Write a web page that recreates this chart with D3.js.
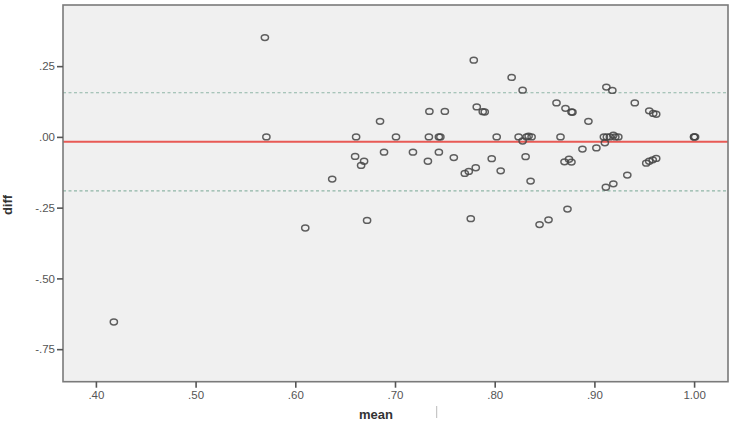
<!DOCTYPE html>
<html><head><meta charset="utf-8">
<script src="https://cdn.jsdelivr.net/npm/d3@7"></script>
<style>body{margin:0;background:#fff}svg{display:block}</style>
</head><body>
<svg id="c" width="738" height="428"></svg>
<script>
const meanVals = [0.418,0.5695,0.571,0.610,0.637,0.661,0.660,0.669,0.666,0.672,0.685,0.689,0.701,0.718,0.7345,0.750,0.734,0.744,0.7455,0.733,0.744,0.759,0.770,0.774,0.781,0.779,0.776,0.782,0.788,0.790,0.797,0.802,0.806,0.817,0.828,0.824,0.828,0.832,0.834,0.837,0.831,0.836,0.845,0.854,0.862,0.871,0.877,0.878,0.866,0.870,0.8745,0.877,0.873,0.894,0.888,0.902,0.9105,0.9095,0.9125,0.9155,0.919,0.921,0.924,0.912,0.918,0.9115,0.919,0.933,0.9405,0.955,0.959,0.962,0.952,0.955,0.9585,0.962,1.000,1.000,1.001];
const diffVals = [-0.654,0.351,0.000,-0.322,-0.149,0.000,-0.069,-0.086,-0.101,-0.295,0.055,-0.054,0.000,-0.054,0.090,0.090,0.000,0.000,0.000,-0.086,-0.054,-0.073,-0.129,-0.122,-0.109,0.271,-0.289,0.106,0.089,0.088,-0.077,0.000,-0.120,0.210,0.165,0.000,-0.0145,0.000,0.003,0.000,-0.070,-0.156,-0.310,-0.293,0.120,0.101,0.088,0.087,0.000,-0.088,-0.079,-0.089,-0.255,0.055,-0.043,-0.039,-0.021,0.000,0.000,0.000,0.006,0.000,0.000,0.176,0.164,-0.178,-0.166,-0.135,0.120,0.092,0.083,0.080,-0.093,-0.086,-0.081,-0.076,0.000,0.000,0.000];
const meanLine = -0.017;
const upperLimit = 0.156;
const lowerLimit = -0.191;
const xTicks = [0.40,0.50,0.60,0.70,0.80,0.90,1.00];
const yTicks = [0.25,0.00,-0.25,-0.50,-0.75];
const xTitle = "mean";
const yTitle = "diff";

const svg = d3.select("#c");
const L=63,R=728,T=5,B=381.7;
const x = d3.scaleLinear().domain([0.367,1.034]).range([L,R]);
const y = d3.scaleLinear().domain([-0.865,0.466]).range([B,T]);
const fmt = v => { let s = d3.format(".2f")(Math.abs(v)); if (s.startsWith("0")) s = s.slice(1); return (v < -1e-9 ? "-" : "") + s; };

svg.append("rect").attr("x",L).attr("y",T).attr("width",R-L).attr("height",B-T).attr("fill","#f0f0f0");

// reference lines
[upperLimit,lowerLimit].forEach(v=>{
  svg.append("line").attr("x1",L).attr("x2",R).attr("y1",y(v)).attr("y2",y(v))
    .attr("stroke","#8fb5a6").attr("stroke-width",1.2).attr("stroke-dasharray","3,2.5");
});
svg.append("line").attr("x1",L).attr("x2",R).attr("y1",y(meanLine)).attr("y2",y(meanLine))
  .attr("stroke","#e85a55").attr("stroke-width",2);

// points
svg.append("g").selectAll("ellipse").data(meanVals.map((m,i)=>[m,diffVals[i]])).join("ellipse")
  .attr("cx",d=>x(d[0])).attr("cy",d=>y(d[1])).attr("rx",3.6).attr("ry",2.9)
  .attr("fill","none").attr("stroke","#444").attr("stroke-width",1.5).attr("stroke-opacity",0.85);

// frame
svg.append("rect").attr("x",L).attr("y",T).attr("width",R-L).attr("height",B-T)
  .attr("fill","none").attr("stroke","#7a7a7a").attr("stroke-width",1.6);

// axes
const xa = svg.append("g").attr("transform",`translate(0,${B})`)
  .call(d3.axisBottom(x).tickValues(xTicks).tickFormat(fmt).tickSize(6).tickPadding(3));
const ya = svg.append("g").attr("transform",`translate(${L},0)`)
  .call(d3.axisLeft(y).tickValues(yTicks).tickFormat(fmt).tickSize(6).tickPadding(2));
[xa,ya].forEach(g=>{
  g.select(".domain").remove();
  g.selectAll(".tick line").attr("stroke","#555").attr("stroke-width",1.6);
  g.selectAll("text").attr("fill","#555").attr("font-family","Liberation Sans, Arial, sans-serif").attr("font-size",11.5);
});

// titles
svg.append("text").attr("x",376).attr("y",419).attr("text-anchor","middle")
  .attr("font-family","Liberation Sans, Arial, sans-serif").attr("font-weight","bold").attr("font-size",13)
  .attr("fill","#333").text(xTitle);
svg.append("line").attr("x1",436.7).attr("x2",436.7).attr("y1",406).attr("y2",418).attr("stroke","#bbb").attr("stroke-width",1);
svg.append("text").attr("transform","translate(12,205) rotate(-90)").attr("text-anchor","middle")
  .attr("font-family","Liberation Sans, Arial, sans-serif").attr("font-weight","bold").attr("font-size",13)
  .attr("fill","#333").text(yTitle);
</script>
</body></html>
